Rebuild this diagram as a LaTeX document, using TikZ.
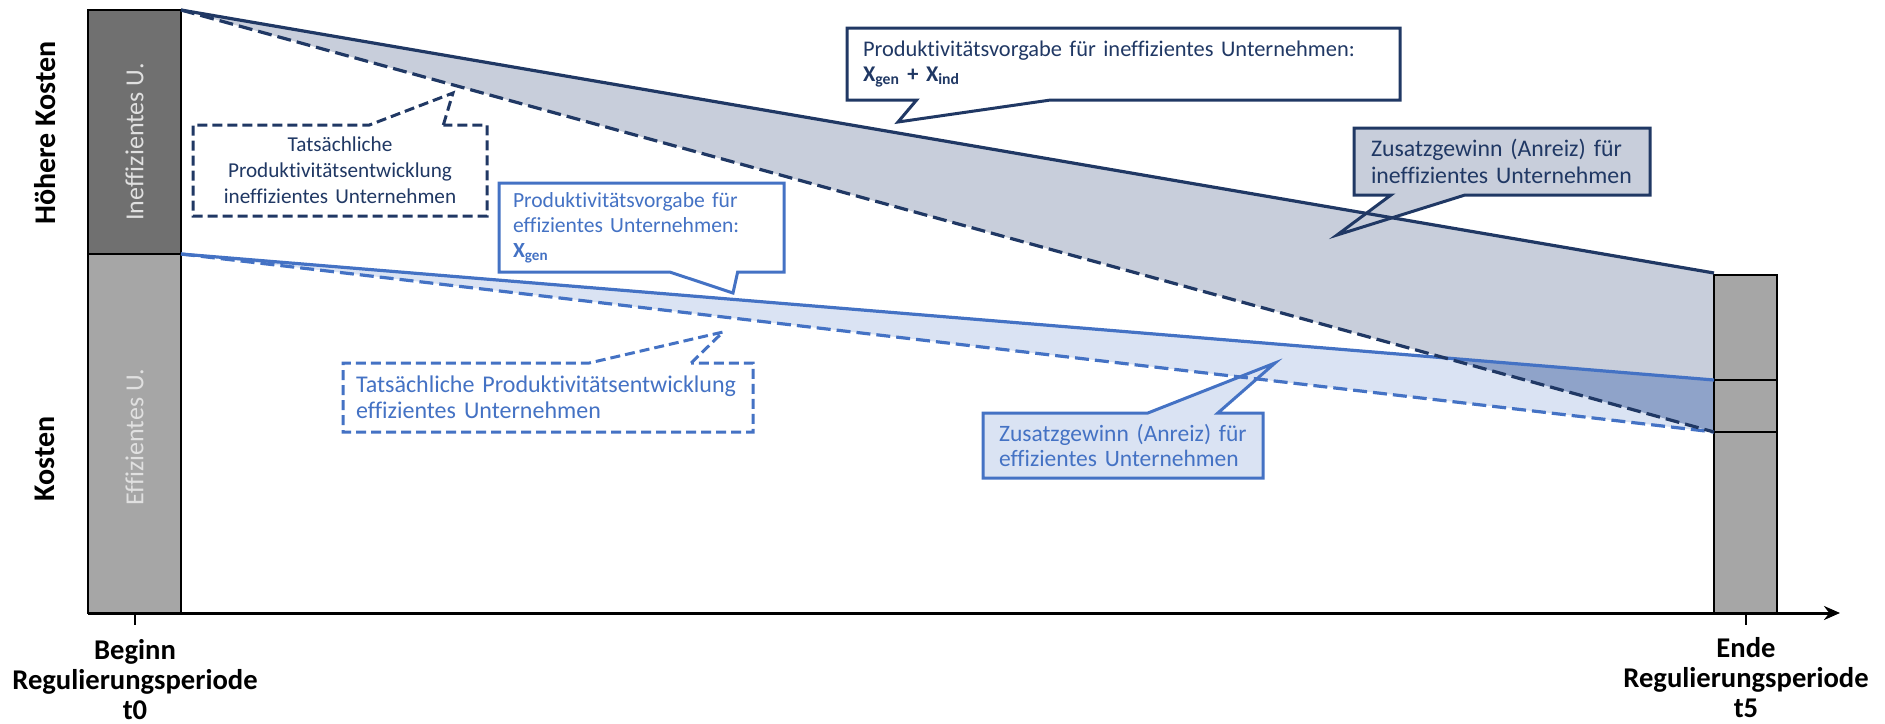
\documentclass[tikz,border=0pt]{standalone}
\usepackage{fontspec}
\setmainfont{Carlito}[Ligatures=NoCommon]
\usetikzlibrary{arrows.meta,shapes.callouts}
\definecolor{navy}{HTML}{203864}
\definecolor{effblue}{HTML}{4472C4}
\definecolor{ineffarea}{HTML}{C8CEDB}
\definecolor{effarea}{HTML}{DAE3F3}
\definecolor{overlaparea}{HTML}{8FA3C9}
\definecolor{bardark}{HTML}{707070}
\definecolor{barlight}{HTML}{A6A6A6}
\tikzset{
  call/.style     ={rectangle callout,line width=1.5pt,align=left,inner sep=0pt},
  navycall/.style ={call,draw=navy,text=navy,fill=white},
  bluecall/.style ={call,draw=effblue,text=effblue,fill=white},
  fs/.style 2 args={font=\fontsize{#1}{#2}\selectfont},
  dashbox/.style  ={dash pattern=on 5pt off 2.5pt},
  dashline/.style ={dash pattern=on 7pt off 3pt},
  plan/.style     ={line width=1.6pt},
  bar/.style      ={draw=black,line width=1pt,fill=barlight},
  barlabel/.style ={rotate=90,text=white!88!black,font=\fontsize{13}{15}\selectfont},
  ylab/.style     ={rotate=90,font=\bfseries\fontsize{15}{17}\selectfont},
  axlabel/.style  ={align=center,anchor=north,inner sep=0pt,
                    font=\bfseries\fontsize{14.3}{15}\selectfont},
}
\newcommand{\Xsub}[1]{X\textsubscript{#1}}

\begin{document}
\begin{tikzpicture}[x=0.5pt,y=-0.5pt]
\useasboundingbox (0,0) rectangle (1885,723);

% start and end points of the four lines
\coordinate (inS) at (181,10);
\coordinate (inT) at (1714,273);
\coordinate (inA) at (1714,432);
\coordinate (efS) at (181,254);
\coordinate (efT) at (1714,380);
\coordinate (efA) at (1714,432);

% areas
\fill[ineffarea] (inS) -- (inT) -- (inA) -- cycle;
\fill[effarea] (efS) -- (efT) -- (efA) -- cycle;
\fill[overlaparea] (intersection of inS--inA and efS--efT) -- (efT) -- (efA) -- cycle;

% bars
\draw[bar,fill=bardark] (88,10) rectangle (181,254);
\draw[bar] (88,254) rectangle (181,613);
\draw[bar] (1714,275) rectangle (1777,380);
\draw[bar] (1714,380) rectangle (1777,432);
\draw[bar] (1714,432) rectangle (1777,613);
\node[barlabel] (inLbl) at (134.5,142) {Ineffizientes U.};
\node[barlabel] (efLbl) at (134.5,437) {Effizientes U.};

\node[ylab] (hiCost) at (45,133) {Höhere Kosten};
\node[ylab] (cost) at (45,459) {Kosten};

% axis
\draw[line width=1.5pt,-{Stealth[length=8pt,width=7pt]}] (88,613) -- (1840,613);
\draw[line width=1pt] (135,613) -- (135,625);
\draw[line width=1pt] (1746,613) -- (1746,625);
\node[axlabel] (tBeg) at (135,639) {Beginn\\Regulierungsperiode\\t0};
\node[axlabel] (tEnd) at (1746,637) {Ende\\Regulierungsperiode\\t5};

% callouts
\node[navycall,fs={11.2}{13},minimum width=276.5pt,minimum height=36pt,text width=260.5pt,
      callout pointer width=67pt,callout absolute pointer={(898,122)}] (inPlan) at (1123.5,64)
  {Produktivitätsvorgabe für ineffizientes Unternehmen:\\[-0.5pt]\textbf{\Xsub{gen} + \Xsub{ind}}};
\node[navycall,fs={10.6}{13},dashbox,align=center,minimum width=147pt,minimum height=45.5pt,text width=140pt,
      callout pointer width=37pt,callout absolute pointer={(453,93)}] (inReal) at (340,170.5)
  {Tatsächliche\\Produktivitätsentwicklung\\ineffizientes Unternehmen};
\node[bluecall,fs={10.8}{12.5},minimum width=142.5pt,minimum height=44.5pt,text width=128.5pt,
      callout pointer width=34pt,callout absolute pointer={(733,293)}] (efPlan) at (641.5,227.5)
  {Produktivitätsvorgabe für\\effizientes Unternehmen:\\\textbf{\Xsub{gen}}};
\node[bluecall,fs={12}{13},dashbox,minimum width=205pt,minimum height=34.5pt,text width=192pt,
      callout pointer width=51pt,callout absolute pointer={(723,332)}] (efReal) at (548,397.5)
  {Tatsächliche Produktivitätsentwicklung\\effizientes Unternehmen};
\node[bluecall,fs={11.75}{12.5},fill=effarea,minimum width=140pt,minimum height=32.5pt,text width=124pt,
      callout pointer width=35pt,callout absolute pointer={(1275,363)}] (efGain) at (1123,445.5)
  {Zusatzgewinn (Anreiz) für\\effizientes Unternehmen};
\node[navycall,fs={11.9}{13.5},fill=ineffarea,minimum width=148pt,minimum height=33.5pt,text width=131pt,
      callout pointer width=37pt,callout absolute pointer={(1337,235)}] (inGain) at (1502,161.5)
  {Zusatzgewinn (Anreiz) für\\ineffizientes Unternehmen};

% lines
\draw[effblue,plan] (efS) -- (efT);
\draw[effblue,plan,dashline] (efS) -- (efA);
\draw[navy,plan] (inS) -- (inT);
\draw[navy,plan,dashline] (inS) -- (inA);
\end{tikzpicture}
\end{document}
